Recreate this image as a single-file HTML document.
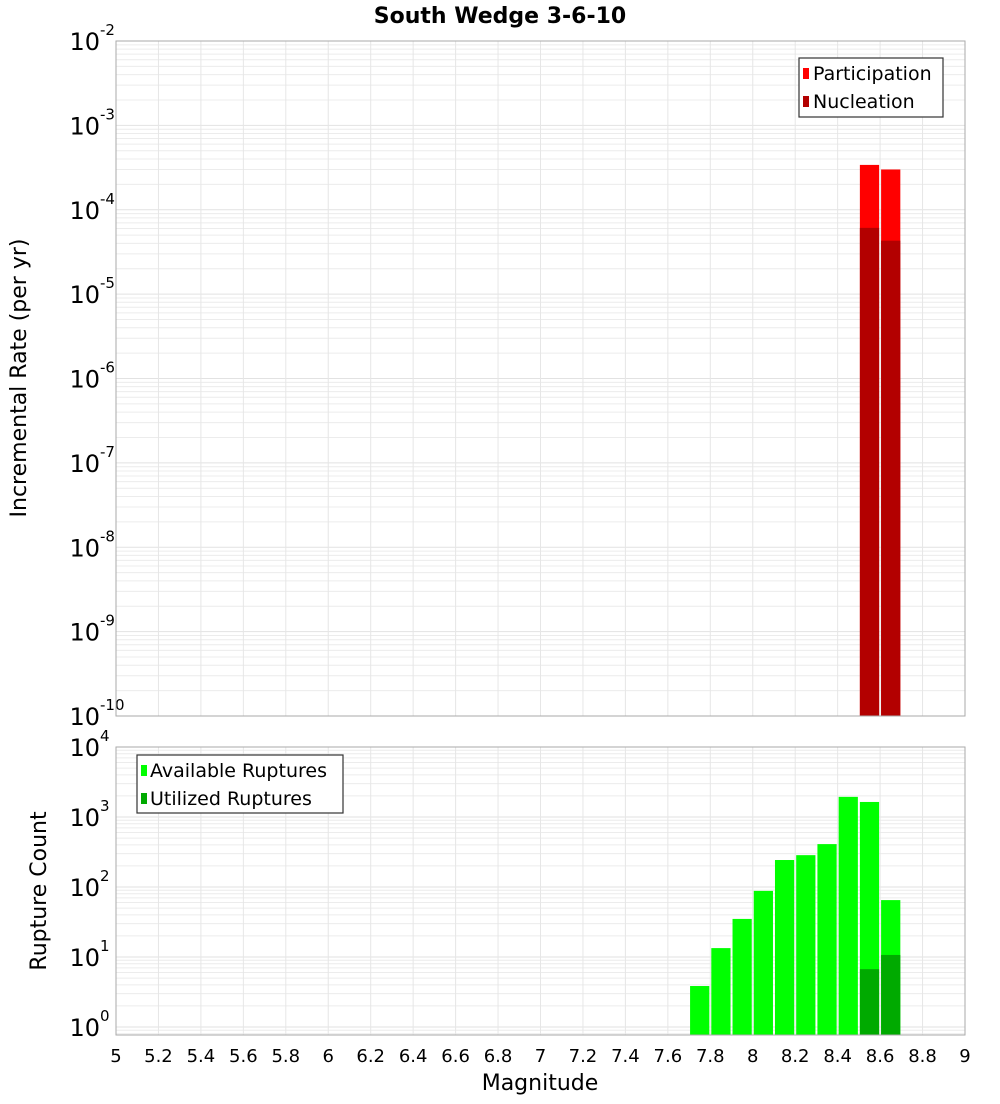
<!DOCTYPE html>
<html><head><meta charset="utf-8"><style>
body{margin:0;background:#fff;width:1000px;height:1100px;overflow:hidden;font-family:"DejaVu Sans","Liberation Sans",sans-serif}
svg text{font-family:"DejaVu Sans","Liberation Sans",sans-serif}
</style></head><body>
<svg id="chart" width="1000" height="1100" xmlns="http://www.w3.org/2000/svg">
<text x="500" y="23" text-anchor="middle" font-size="22" font-weight="bold">South Wedge 3-6-10</text>
<text transform="translate(26,378) rotate(-90)" text-anchor="middle" font-size="22">Incremental Rate (per yr)</text>
<text transform="translate(46,891) rotate(-90)" text-anchor="middle" font-size="22">Rupture Count</text>
<text x="540" y="1090" text-anchor="middle" font-size="22">Magnitude</text>
<g id="top"></g>
<g id="bot"></g>
<g>
<rect x="799" y="58" width="144" height="59" fill="#fff" stroke="#333" stroke-width="1.2"/>
<rect x="803" y="68" width="6" height="11" fill="#ff0000"/>
<text x="813" y="80" font-size="19">Participation</text>
<rect x="803" y="96" width="6" height="11" fill="#b30000"/>
<text x="813" y="108" font-size="19">Nucleation</text>
</g>
<g>
<rect x="137" y="755" width="206" height="58" fill="#fff" stroke="#333" stroke-width="1.2"/>
<rect x="141" y="765" width="6" height="11" fill="#00ff00"/>
<text x="150" y="777" font-size="19">Available Ruptures</text>
<rect x="141" y="793" width="6" height="11" fill="#00aa00"/>
<text x="150" y="805" font-size="19">Utilized Ruptures</text>
</g>
</svg>
<script>
const magBins=[7.75,7.85,7.95,8.05,8.15,8.25,8.35,8.45,8.55,8.65];
const available=[3.85,13.4,35,88,243,285,410,1940,1640,65];
const utilized=[0,0,0,0,0,0,0,0,6.7,10.7];
const rateBins=[8.55,8.65];
const participation=[3.4e-4,3.0e-4];
const nucleation=[6.1e-5,4.3e-5];
const xTicks=[5,5.2,5.4,5.6,5.8,6,6.2,6.4,6.6,6.8,7,7.2,7.4,7.6,7.8,8,8.2,8.4,8.6,8.8,9];
const topExps=[-10,-9,-8,-7,-6,-5,-4,-3,-2];
const botExps=[0,1,2,3,4];
const NS='http://www.w3.org/2000/svg';
const X0=116,X1=965;
function x(m){return X0+(m-5)/4*(X1-X0);}
function mk(p,t,a){const e=document.createElementNS(NS,t);for(const k in a)e.setAttribute(k,a[k]);p.appendChild(e);return e;}
function plot(g,top,bottom,yFn,exps,minLog,maxLog){
  mk(g,'rect',{x:X0,y:top,width:X1-X0,height:bottom-top,fill:'#fff'});
  for(let d=Math.floor(minLog);d<maxLog;d++)for(let k=1;k<10;k++){
    const yy=yFn(k*Math.pow(10,d));if(yy<top||yy>bottom)continue;
    mk(g,'line',{x1:X0,x2:X1,y1:yy,y2:yy,stroke:k==1?'#e2e2e2':'#ececec','stroke-width':1});
  }
  xTicks.forEach(t=>{mk(g,'line',{x1:x(t),x2:x(t),y1:top,y2:bottom,stroke:'#e6e6e6','stroke-width':1});});
  exps.forEach(e=>{
    const yy=yFn(Math.pow(10,e));
    const tx=mk(g,'text',{x:100,y:yy+9,'text-anchor':'end','font-size':24});
    
    
    tx.textContent='10';
    const sp=mk(g,'text',{x:100,y:yy-6,'font-size':15});sp.textContent=String(e);
  });
}
const topG=document.getElementById('top'),botG=document.getElementById('bot');
const TT=41,TB=716,BT=747,BB=1035;
function yTop(v){return TT+(-2-Math.log10(v))*(TB-TT)/8;}
function yBot(v){return 1027-Math.log10(v)*70;}
plot(topG,TT,TB,yTop,topExps,-10,-2);
plot(botG,BT,BB,yBot,botExps,-1,4);
function bars(g,bins,vals,yFn,bottom,color,name){
  bins.forEach((m,i)=>{if(!vals[i])return;
    const y0=Math.max(yFn(vals[i]),0);
    const r=mk(g,'rect',{x:x(m-0.05)+1,y:y0,width:x(m+0.05)-x(m-0.05)-2,height:bottom-y0,fill:color});
    
    
  });
}
bars(topG,rateBins,participation,yTop,TB,'#ff0000','participation-bar');
bars(topG,rateBins,nucleation,yTop,TB,'#b30000','nucleation-bar');
bars(botG,magBins,available,yBot,BB,'#00ff00','available-bar');
bars(botG,magBins,utilized,yBot,BB,'#00aa00','utilized-bar');
mk(topG,'rect',{x:X0,y:TT,width:X1-X0,height:TB-TT,fill:'none',stroke:'#aaa','stroke-width':1});
mk(botG,'rect',{x:X0,y:BT,width:X1-X0,height:BB-BT,fill:'none',stroke:'#aaa','stroke-width':1});
xTicks.forEach(t=>{
  const tx=mk(botG,'text',{x:x(t),y:1062,'text-anchor':'middle','font-size':18});
  
  
  tx.textContent=String(t);
});
</script>
</body></html>
